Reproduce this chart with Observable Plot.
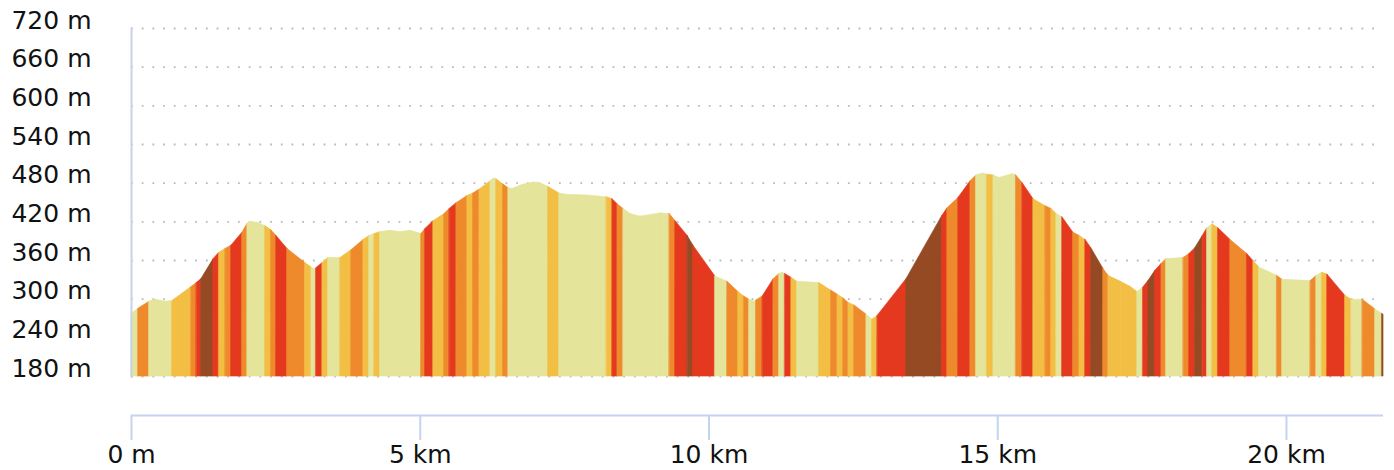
<!DOCTYPE html>
<html>
<head>
<meta charset="utf-8">
<script src="https://cdn.jsdelivr.net/npm/d3@7"></script>
<script src="https://cdn.jsdelivr.net/npm/@observablehq/plot@0.6"></script>
<style>
  html, body { margin: 0; padding: 0; background: #fff; }
  #chart svg { display: block; }
</style>
</head>
<body>
<div id="chart"></div>
<script>
// Distance along the route (km)
const dist = [0,0.12,0.31,0.42,0.59,0.71,1.04,1.13,1.21,1.42,1.52,1.63,1.73,1.92,2.01,2.06,2.20,2.32,2.42,2.51,
  2.70,3.01,3.12,3.17,3.20,3.31,3.41,3.62,3.81,4.02,4.12,4.21,4.31,4.48,4.66,4.83,5.02,5.09,5.23,5.42,
  5.51,5.63,5.82,5.92,6.03,6.22,6.27,6.32,6.44,6.53,6.60,6.77,6.96,7.08,7.22,7.41,7.52,7.86,8.12,8.23,
  8.33,8.42,8.52,8.64,8.81,9.16,9.32,9.42,9.63,9.73,10.11,10.32,10.51,10.61,10.70,10.79,10.82,10.93,11.12,11.22,
  11.27,11.32,11.43,11.53,11.91,12.12,12.23,12.33,12.42,12.52,12.73,12.83,12.92,13.42,14.04,14.13,14.32,14.53,14.63,14.75,
  14.82,14.93,15.03,15.26,15.32,15.43,15.62,15.83,15.93,16.02,16.12,16.31,16.42,16.52,16.62,16.83,16.92,17.13,17.30,17.42,
  17.52,17.61,17.73,17.84,17.92,18.22,18.32,18.42,18.55,18.63,18.72,18.82,19.03,19.32,19.43,19.53,19.84,19.93,20.42,20.52,
  20.62,20.71,21.02,21.13,21.32,21.54,21.66,21.68];
// Elevation (m)
const elev = [277,285,296,299,296,297,319,325,331,362,372,378,383,403,417,420,418,413,407,398,
  378,356,349,346,348,356,364,364,376,392,398,401,404,406,404,406,401,409,421,432,
  440,449,460,464,470,483,487,486,478,472,471,477,481,480,474,464,462,461,459,458,
  455,447,440,432,428,433,432,421,398,383,335,327,311,304,299,296,298,304,331,339,
  341,339,333,327,325,313,307,301,294,290,276,268,274,331,429,441,457,483,492,495,
  493,492,488,494,492,480,455,444,440,432,427,403,398,392,379,347,336,327,319,311,
  318,328,344,355,362,364,370,379,398,410,416,410,392,370,359,349,336,330,328,336,
  341,338,305,299,299,284,277,276];
// Slope class of each stretch between consecutive points
const slope = ["k","o","k","k","k","y","o","r","b","r","y","o","r","o","k","k","k","y","o","r",
  "o","y","k","k","r","y","k","y","o","y","k","y","k","k","k","k","o","r","y","o",
  "r","o","y","o","y","k","k","y","o","k","k","k","k","k","y","k","k","k","k","y",
  "r","o","k","k","k","k","o","r","b","r","k","o","y","o","k","k","o","r","o","k",
  "k","r","y","k","y","o","y","o","y","o","k","y","r","b","r","o","r","o","k","k",
  "y","k","k","k","o","r","y","o","y","k","r","o","y","r","b","o","y","y","y","k",
  "r","b","r","o","k","o","r","b","r","k","y","r","o","r","y","k","o","k","o","k",
  "y","r","y","k","o","k","b"];
const slopeClasses = ["k","y","o","r","b"];
const slopeColors = ["#e4e49a","#f2be44","#ee8a2b","#e4391f","#964a23"];
const yTicks = [180,240,300,360,420,480,540,600,660,720];
const xTicks = [0,5,10,15,20];
const xTickLabels = ["0 m","5 km","10 km","15 km","20 km"];

const segs = slope.flatMap((c, i) => [
  {seg: i, cls: c, km: dist[i], m: elev[i]},
  {seg: i, cls: c, km: dist[i + 1], m: elev[i + 1]}
]);

const axisBlue = "#c6d3ee";

const chart = Plot.plot({
  width: 1394,
  height: 470,
  marginLeft: 131,
  marginRight: 11,
  marginTop: 28,
  marginBottom: 94,
  style: {fontFamily: "'DejaVu Sans', sans-serif", fontSize: "25px", color: "#111", background: "#fff"},
  x: {domain: [0, dist[dist.length - 1]]},
  y: {domain: [180, 720]},
  color: {domain: slopeClasses, range: slopeColors},
  marks: [
    Plot.ruleY(yTicks, {stroke: "#bbbbbb", strokeWidth: 1.8, strokeDasharray: "1.8,8.9"}),
    Plot.areaY(segs, {x: "km", y1: 180, y2: "m", z: "seg", fill: "cls", stroke: "cls", strokeWidth: 0.7}),
    Plot.frame({anchor: "left", stroke: axisBlue, strokeWidth: 2}),
    Plot.axisY(yTicks, {label: null, tickSize: 0, tickPadding: 40, lineAnchor: "bottom", tickFormat: d => d + " m", fontSize: 25, fill: "#111"}),
    Plot.ruleY([180], {dy: 39, stroke: axisBlue, strokeWidth: 2}),
    Plot.axisX(xTicks, {label: null, tickSize: 25, tickPadding: 5, dy: 39, stroke: axisBlue, strokeWidth: 2,
      tickFormat: d => xTickLabels[xTicks.indexOf(d)], fontSize: 25, fill: "#111"})
  ]
});
document.getElementById("chart").appendChild(chart);
</script>
</body>
</html>
